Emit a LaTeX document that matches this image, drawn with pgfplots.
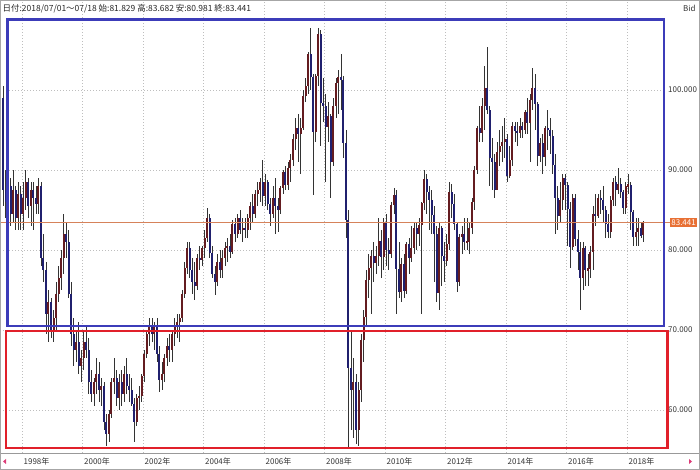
\documentclass[border=0pt]{standalone}
\usepackage{fontspec}
\setmainfont{Noto Sans CJK JP}
\usepackage{pgfplots}
\usepackage{pgfplotstable}
\pgfplotsset{compat=1.18}
\definecolor{upc}{RGB}{100,28,32}
\definecolor{dnc}{RGB}{32,32,110}
\definecolor{boxblue}{RGB}{60,60,185}
\definecolor{boxred}{RGB}{225,32,42}
\definecolor{pricec}{RGB}{214,130,90}
\definecolor{pricebox}{RGB}{232,112,52}
\definecolor{gridc}{RGB}{190,190,190}
\definecolor{arrowc}{RGB}{220,60,120}

\pgfplotstableread{
yr mo o h l c
1997 5 99 100.5 85.5 87.5
1997 6 87.5 90 84 86
1997 7 86 89.5 84.5 88
1997 8 88 89 83 84.5
1997 9 84.5 90 83.5 87.5
1997 10 87.5 88 82.5 84
1997 11 84 88.5 82.5 87
1997 12 87 88 82.5 84.5
1998 1 84.5 88.5 82.5 86.5
1998 2 86.5 90 85 88.5
1998 3 88.5 89 84 85.5
1998 4 85.5 88.5 83 87.5
1998 5 87.5 88.5 82.5 86.5
1998 6 86.5 88 84.5 85.8
1998 7 85.8 89 84.5 88
1998 8 88 88.5 78 79
1998 9 79 82 76 77.5
1998 10 77.5 78.5 69.5 72
1998 11 72 75 68.5 73.5
1998 12 73.5 74 69 70
1999 1 70 72.5 68.5 71.5
1999 2 71.5 76 70 74.5
1999 3 74.5 78 73.5 76.5
1999 4 76.5 80 75 79
1999 5 79 84.5 77 82
1999 6 82 83.5 79 81
1999 7 81 82.5 74 74.5
1999 8 74.5 76 68 69.5
1999 9 69.5 71.5 65.5 67.5
1999 10 67.5 70 66 68.5
1999 11 68.5 71 64.5 65.5
1999 12 65.5 67.5 63.5 66.5
2000 1 66.5 70 65 68.5
2000 2 68.5 70.5 66.5 67.5
2000 3 67.5 69 62 63.5
2000 4 63.5 65 61 62
2000 5 62 64 60.5 63.5
2000 6 63.5 66.5 62 64.5
2000 7 64.5 66 61 62.5
2000 8 62.5 64 60.5 63
2000 9 63 63.5 57.5 58.5
2000 10 58.5 59.5 55.5 57
2000 11 57 60 56 59.5
2000 12 59.5 64 59 63.5
2001 1 63.5 66.5 62 64
2001 2 64 65 60.5 61.5
2001 3 61.5 64.5 60 63.5
2001 4 63.5 65 60.5 62
2001 5 62 65.5 61 64.5
2001 6 64.5 66.5 62 63
2001 7 63 64.5 61 62.5
2001 8 62.5 64 60.5 60.8
2001 9 60.8 61.5 56 58.5
2001 10 58.5 62 58 61.5
2001 11 61.5 63 60 61.8
2001 12 61.8 64.5 61 64.2
2002 1 64.2 67.5 63.5 67
2002 2 67 70 66.5 69.5
2002 3 69.5 71.5 68 70.5
2002 4 70.5 71.5 68.5 69.5
2002 5 69.5 71 67.5 70.5
2002 6 70.5 71.5 66 67
2002 7 67 68 62.3 63.7
2002 8 63.7 66 62.5 64.5
2002 9 64.5 67 63.5 66.5
2002 10 66.5 69 65.5 68
2002 11 68 69.5 66 67.5
2002 12 67.5 70 66 69.5
2003 1 69.5 71.5 68 70.5
2003 2 70.5 72 69 71
2003 3 71 72 68.5 71.5
2003 4 71.5 75 71 74.5
2003 5 74.5 78.5 74 77.8
2003 6 77.8 81 77 80.3
2003 7 80.3 81 76.5 77.5
2003 8 77.5 79 74.5 76
2003 9 76 78.5 73.8 75.5
2003 10 75.5 79.5 75 79
2003 11 79 80.5 77.5 78.8
2003 12 78.8 80.5 78 80.2
2004 1 80.2 82.5 79 81.5
2004 2 81.5 85.3 81 84
2004 3 84 84.5 79 79.6
2004 4 79.6 80.5 76.5 77
2004 5 77 78 74.4 76
2004 6 76 79.5 75.5 78.5
2004 7 78.5 80 76.5 77.5
2004 8 77.5 80 76.5 79
2004 9 79 81 78 80.2
2004 10 80.2 81.5 78.5 80.5
2004 11 80.5 82 79 79.8
2004 12 79.8 83.8 79.5 83.2
2005 1 83.2 84 81 82
2005 2 82 84.5 81.5 84
2005 3 84 85 82 82.5
2005 4 82.5 84 81 82.8
2005 5 82.8 84 81.5 82.5
2005 6 82.5 84.5 81.5 84
2005 7 84 86 82.5 85.5
2005 8 85.5 87 83.5 84.5
2005 9 84.5 87.5 84 87
2005 10 87 88.5 85.5 87.5
2005 11 87.5 89 86 88.5
2005 12 88.5 91.2 85.5 86.8
2006 1 86.8 89.5 85.5 88.5
2006 2 88.5 88.8 85 85.8
2006 3 85.8 86.5 83 84.5
2006 4 84.5 88 84 86.5
2006 5 86.5 89 82 85.5
2006 6 85.5 86.5 82.3 85
2006 7 85 88 84.5 87.8
2006 8 87.8 90 87 89.7
2006 9 89.7 90.5 87.5 88.1
2006 10 88.1 91 87.5 90.2
2006 11 90.2 92 88.5 91.2
2006 12 91.2 94.5 90.5 93.9
2007 1 93.9 96.5 92.5 95.2
2007 2 95.2 97 91 94.5
2007 3 94.5 96.5 89.5 95.2
2007 4 95.2 100 95 99.3
2007 5 99.3 101.5 98.5 100.5
2007 6 100.5 104.8 99.5 104.5
2007 7 104.5 107.8 100 101.6
2007 8 101.6 102 86.9 94.8
2007 9 94.8 102 93.5 101.7
2007 10 101.7 107.8 100.5 107
2007 11 107 107.5 93 98.4
2007 12 98.4 101.5 96 98
2008 1 98 99.5 88.5 95.4
2008 2 95.4 98.5 93.5 96.7
2008 3 96.7 97 86.5 91
2008 4 91 99 90.5 98
2008 5 98 101.5 96.5 100.9
2008 6 100.9 102.5 97 101.6
2008 7 101.6 104.5 97.5 101.2
2008 8 101.2 101.8 91.5 93.4
2008 9 93.4 95 81.5 83.8
2008 10 83.8 85 55.1 65.3
2008 11 65.3 70 57.5 62.5
2008 12 62.5 66.5 56.5 63.5
2009 1 63.5 64.5 55.8 57.5
2009 2 57.5 63.5 55.5 62.5
2009 3 62.5 69.5 61 68.7
2009 4 68.7 72.5 66 71.6
2009 5 71.6 77.5 70.5 76.2
2009 6 76.2 79.5 74 77.7
2009 7 77.7 80 72 79.2
2009 8 79.2 81 76 78.4
2009 9 78.4 80.5 77 79.2
2009 10 79.2 84 78 81.1
2009 11 81.1 82.5 76.5 79.1
2009 12 79.1 84 77.5 83.5
2010 1 83.5 84.5 78 80
2010 2 80 81.5 77.5 79.5
2010 3 79.5 86 79 85.6
2010 4 85.6 87.8 84.5 86.9
2010 5 86.9 87.5 72 77.6
2010 6 77.6 81 74 74.7
2010 7 74.7 79 73.5 78.2
2010 8 78.2 79.5 74 74.9
2010 9 74.9 81 74.5 80.7
2010 10 80.7 81.5 77 79
2010 11 79 83 78.5 80.3
2010 12 80.3 83.5 79.5 82.8
2011 1 82.8 83.5 80 82
2011 2 82 84 80.5 83.1
2011 3 83.1 86 72 85.9
2011 4 85.9 90 85 88.9
2011 5 88.9 89.5 84.5 87.2
2011 6 87.2 88 82.5 86.3
2011 7 86.3 87.5 82 84.4
2011 8 84.4 85.5 76 82
2011 9 82 83 73.5 74.6
2011 10 74.6 83.5 72.5 82.7
2011 11 82.7 83 75.5 79.2
2011 12 79.2 81 76 78.6
2012 1 78.6 82 78 80.8
2012 2 80.8 88.5 80 87.2
2012 3 87.2 88.2 84 85.8
2012 4 85.8 87 82.5 83.2
2012 5 83.2 83.5 74.8 76
2012 6 76 82 75.5 81.6
2012 7 81.6 83 79.5 82
2012 8 82 84 80 81
2012 9 81 84 80 81
2012 10 81 83.5 79.5 82.8
2012 11 82.8 86.5 82 86
2012 12 86 90.5 85 90
2013 1 90 95.5 89.5 95.2
2013 2 95.2 98 93.5 94.6
2013 3 94.6 99 93.5 98
2013 4 98 103 95 100.3
2013 5 100.3 105.4 97 97.5
2013 6 97.5 98 88 91.5
2013 7 91.5 94 87.5 91
2013 8 91 92 86.5 87.5
2013 9 87.5 93.5 87.5 92.3
2013 10 92.3 95 90.5 93
2013 11 93 95.5 91 93.5
2013 12 93.5 96.5 91.5 93.9
2014 1 93.9 94.5 88.5 89.3
2014 2 89.3 93 89 91.2
2014 3 91.2 96 90.5 95.5
2014 4 95.5 96 93.5 94.9
2014 5 94.9 96 93 94.6
2014 6 94.6 96.5 94 95.5
2014 7 95.5 96 94 95
2014 8 95 97.5 94.5 97.2
2014 9 97.2 99 94.5 95.9
2014 10 95.9 99.5 91 98.7
2014 11 98.7 102.8 97.5 100.2
2014 12 100.2 102 95 98.2
2015 1 98.2 98.5 90.5 91.7
2015 2 91.7 94 91 93.4
2015 3 93.4 94.5 89.5 91.6
2015 4 91.6 95.5 90.5 95.3
2015 5 95.3 97.5 92.5 95
2015 6 95 96.5 92 94.3
2015 7 94.3 95 89.5 90.6
2015 8 90.6 92 82 86.5
2015 9 86.5 88 82.5 84.2
2015 10 84.2 88.5 83.5 86.2
2015 11 86.2 89.5 85 89
2015 12 89 89.5 85 88.1
2016 1 88.1 88.5 80.5 85.1
2016 2 85.1 86 77.7 80.4
2016 3 80.4 87 80 86.5
2016 4 86.5 87 80.5 81.4
2016 5 81.4 82.5 77.5 79.8
2016 6 79.8 81 72.5 76.5
2016 7 76.5 81 75 80.3
2016 8 80.3 80.5 75.5 77.5
2016 9 77.5 79.5 75.5 77.6
2016 10 77.6 80.5 76.5 79.8
2016 11 79.8 85.5 77.5 84.5
2016 12 84.5 87 83 84.3
2017 1 84.3 87 84 86.5
2017 2 86.5 87.5 84.5 86.2
2017 3 86.2 88 83.5 85
2017 4 85 85.5 81.5 83.3
2017 5 83.3 84.5 81.5 82.3
2017 6 82.3 86.8 81.5 86.3
2017 7 86.3 89 85.5 88.5
2017 8 88.5 89.2 85.5 87.5
2017 9 87.5 90.3 87 88.2
2017 10 88.2 89 86.5 87.2
2017 11 87.2 87.5 84.5 85.3
2017 12 85.3 88.5 84.5 88
2018 1 88 89.5 87 88.1
2018 2 88.1 88.5 82.5 84.7
2018 3 84.7 85 80.5 81.6
2018 4 81.6 84 80.5 82.3
2018 5 82.3 84 80.5 82.8
2018 6 82.8 83.5 81.5 81.8
2018 7 81.83 83.68 80.98 83.44
}\ohlc

\begin{document}
\begin{tikzpicture}[x=1bp,y=1bp]
\useasboundingbox (0,-17) rectangle (700,453);
\begin{axis}[
  at={(0,0)}, anchor=south west,
  scale only axis, width=665bp, height=453bp,
  xmin=1997.273, xmax=2019.257, ymin=54.625, ymax=111.25,
  axis line style={draw=none},
  clip=false,
  major tick length=0pt,
  xtick={1998,2000,2002,2004,2006,2008,2010,2012,2014,2016,2018},
  xticklabels={1998年,2000年,2002年,2004年,2006年,2008年,2010年,2012年,2014年,2016年,2018年},
  xticklabel style={anchor=west, inner sep=0pt, yshift=-8.5bp, xshift=1.5bp, font=\fontsize{8}{9}\selectfont, text=black!80},
  ytick={60,70,80,90,100},
  yticklabels={60.000,70.000,80.000,90.000,100.000},
  yticklabel pos=right,
  yticklabel style={anchor=west, inner sep=0pt, xshift=3bp, font=\fontsize{8}{9}\selectfont, text=black!80},
  grid=major,
  major grid style={gridc, dash pattern=on 1bp off 2bp, line width=0.6bp},
  candle/.style={draw=none, mark=none, forget plot,
    error bars/y dir=both, error bars/y explicit, error bars/error mark=none},
]
\addplot[candle, error bars/error bar style={draw=black!80, line width=0.6bp}]
  table[x expr={\thisrow{yr}+(\thisrow{mo}-0.5)/12},
        y expr={(\thisrow{h}+\thisrow{l})/2},
        y error expr={(\thisrow{h}-\thisrow{l})/2}] {\ohlc};
\addplot[candle, error bars/error bar style={draw=upc, line width=2bp}]
  table[x expr={\thisrow{yr}+(\thisrow{mo}-0.5)/12},
        y expr={\thisrow{c}>=\thisrow{o} ? (\thisrow{o}+\thisrow{c})/2 : nan},
        y error expr={max(abs(\thisrow{c}-\thisrow{o})/2,0.15)}] {\ohlc};
\addplot[candle, error bars/error bar style={draw=dnc, line width=2bp}]
  table[x expr={\thisrow{yr}+(\thisrow{mo}-0.5)/12},
        y expr={\thisrow{c}<\thisrow{o} ? (\thisrow{o}+\thisrow{c})/2 : nan},
        y error expr={max(abs(\thisrow{c}-\thisrow{o})/2,0.15)}] {\ohlc};
\draw[pricec, line width=0.6bp] (axis cs:1997.273,83.441) -- ([xshift=5bp]axis cs:2019.257,83.441);
\node[anchor=west, fill=pricebox, text=white, inner xsep=1.2bp, inner ysep=1.5bp, font=\fontsize{8}{8}\selectfont]
  at ([xshift=5bp]axis cs:2019.257,83.441) {83.441};
\end{axis}
% annotation boxes
\draw[boxblue, line width=2.8bp] (7.5,127) rectangle (664,433.5);
\draw[boxred, line width=2.8bp] (6,5) rectangle (667.5,122);
% frame
\draw[gray!80, line width=0.8bp] (0,0) -- (700,0);
\draw[gray!70, line width=0.8bp] (0.4,-16.6) rectangle (699.6,452.6);
% header
\node[anchor=west, inner sep=0pt, font=\fontsize{8.5}{9}\selectfont, text=black!85] at (2.5,444.5)
  {日付:2018/07/01～07/18 始:81.829 高:83.682 安:80.981 終:83.441};
\node[anchor=west, inner sep=0pt, font=\fontsize{8}{9}\selectfont, text=black!80] at (683,444.5) {Bid};
% scroll arrows
\fill[arrowc] (3,-8.5) -- (6,-6) -- (6,-11) -- cycle;
\fill[arrowc] (692,-8.5) -- (689,-6) -- (689,-11) -- cycle;
\end{tikzpicture}
\end{document}
